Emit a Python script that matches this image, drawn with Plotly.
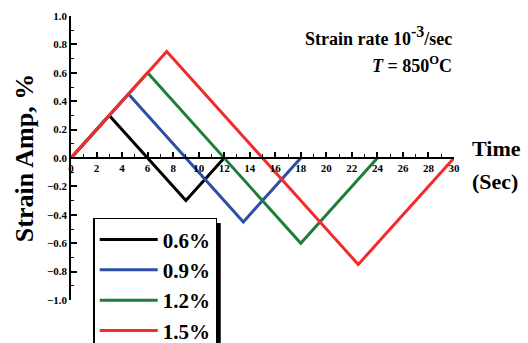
import plotly.graph_objects as go

# Data: strain amplitude (%) vs time (s) for a triangular cycle
names = ["0.6%", "0.9%", "1.2%", "1.5%"]
colors = ["#000000", "#2c4ea4", "#1f7d3a", "#f22b2b"]
t_06 = [0, 3, 9, 12]
s_06 = [0, 0.3, -0.3, 0]
t_09 = [0, 4.5, 13.5, 18]
s_09 = [0, 0.45, -0.45, 0]
t_12 = [0, 6, 18, 24]
s_12 = [0, 0.6, -0.6, 0]
t_15 = [0, 7.5, 22.5, 30]
s_15 = [0, 0.75, -0.75, 0]
times = [t_06, t_09, t_12, t_15]
strains = [s_06, s_09, s_12, s_15]

FONT = "Liberation Serif"

fig = go.Figure()
for n, c, t, s in zip(names, colors, times, strains):
    fig.add_trace(go.Scatter(x=t, y=s, mode="lines", name=n,
                             line=dict(color=c, width=3)))

fig.update_layout(
    width=528, height=343,
    margin=dict(l=71, r=74, t=16, b=43, autoexpand=False),
    plot_bgcolor="white", paper_bgcolor="white",
    font=dict(family=FONT, color="black", weight="bold"),
    showlegend=True,
    legend=dict(
        x=0.058, y=0.289, xanchor="left", yanchor="top",
        bordercolor="black", borderwidth=1.5, bgcolor="white",
        font=dict(family=FONT, size=21, color="black", weight="bold"),
        itemwidth=58,
    ),
    xaxis=dict(
        range=[0, 30], dtick=2, tick0=0, automargin=False,
        showgrid=False, zeroline=False,
        showline=True, linecolor="black", linewidth=1.5,
        anchor="free", position=0.5,
        ticks="inside", ticklen=5, tickwidth=1.5, tickcolor="black",
        minor=dict(dtick=1, ticks="inside", ticklen=3, tickwidth=1.2, tickcolor="black"),
        tickfont=dict(family=FONT, size=11, color="black", weight="bold"),
    ),
    yaxis=dict(
        range=[-1.0, 1.0], dtick=0.2, tick0=0, tickformat=".1f", automargin=False,
        showgrid=False, zeroline=False,
        showline=True, linecolor="black", linewidth=1.5,
        ticks="inside", ticklen=6, tickwidth=1.5, tickcolor="black",
        minor=dict(dtick=0.1, ticks="inside", ticklen=3, tickwidth=1.2, tickcolor="black"),
        tickfont=dict(family=FONT, size=11, color="black", weight="bold"),
        title=dict(text="Strain Amp, %", standoff=6,
                   font=dict(family=FONT, size=26, color="black", weight="bold")),
    ),
)

# legend drop shadow on the right side
fig.add_shape(type="rect", xref="paper", yref="paper",
              x0=0.380, x1=0.391, y0=-0.16, y1=0.271,
              fillcolor="black", line=dict(width=0), layer="above")

fig.add_annotation(xref="paper", yref="paper", x=1.042, y=0.535,
                   xanchor="left", yanchor="middle", showarrow=False,
                   text="<b>Time</b>", font=dict(family=FONT, size=22, color="black"))
fig.add_annotation(xref="paper", yref="paper", x=1.042, y=0.419,
                   xanchor="left", yanchor="middle", showarrow=False,
                   text="<b>(Sec)</b>", font=dict(family=FONT, size=22, color="black"))
fig.add_annotation(xref="paper", yref="paper", x=1.0, y=0.93,
                   xanchor="right", yanchor="middle", showarrow=False,
                   text="<b>Strain rate 10<sup><span style='font-size:16px'>-3</span></sup>/sec</b>",
                   font=dict(family=FONT, size=18, color="black"))
fig.add_annotation(xref="paper", yref="paper", x=1.0, y=0.83,
                   xanchor="right", yanchor="middle", showarrow=False,
                   text="<b><i>T</i> = 850<sup>O</sup>C</b>",
                   font=dict(family=FONT, size=18, color="black"))

fig.write_html("out.html")
